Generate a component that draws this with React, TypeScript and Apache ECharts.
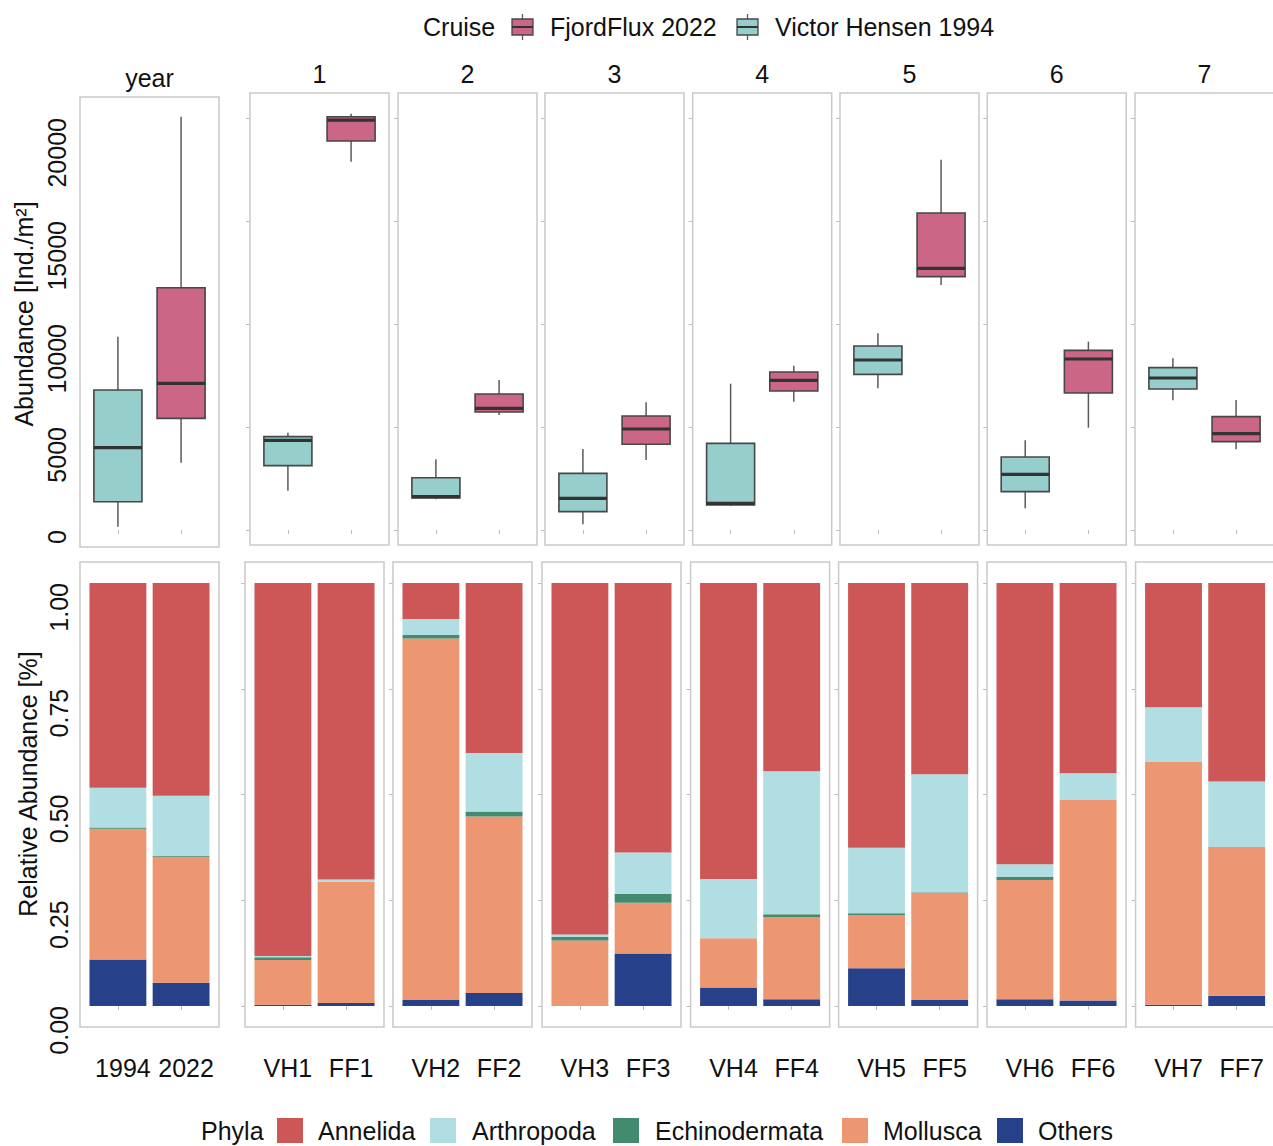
import React, { useEffect, useRef } from 'react';
import * as echarts from 'echarts';

// ---------------- DATA ----------------
const panelTitles = ['year', '1', '2', '3', '4', '5', '6', '7'];
const xCategories = [
  ['1994', '2022'],
  ['VH1', 'FF1'],
  ['VH2', 'FF2'],
  ['VH3', 'FF3'],
  ['VH4', 'FF4'],
  ['VH5', 'FF5'],
  ['VH6', 'FF6'],
  ['VH7', 'FF7'],
];
const cruiseLegend = ['FjordFlux 2022', 'Victor Hensen 1994'];

// box statistics: [lower whisker, Q1, median, Q3, upper whisker]  (Ind./m²)
const vhBox = [
  [162, 1375, 3996, 6796, 9383],
  [1909, 3123, 4353, 4531, 4725],
  [1489, 1553, 1618, 2540, 3430],
  [275, 890, 1537, 2751, 3932],
  [1165, 1214, 1294, 4207, 7103],
  [6877, 7556, 8252, 8932, 9547],
  [1052, 1861, 2702, 3544, 4353],
  [6294, 6845, 7379, 7880, 8333],
];
const ffBox = [
  [3268, 5421, 7120, 11762, 20063],
  [17880, 18882, 19901, 20063, 20208],
  [5582, 5728, 5906, 6602, 7281],
  [3398, 4159, 4903, 5534, 6197],
  [6230, 6748, 7265, 7670, 7977],
  [11893, 12298, 12702, 15388, 17977],
  [4968, 6650, 8301, 8722, 9143],
  [3916, 4288, 4677, 5502, 6311],
];
const abundanceTicks = [0, 5000, 10000, 15000, 20000];
const relativeTicks = [0, 0.25, 0.5, 0.75, 1];

// relative abundance, order: 1994, 2022, VH1, FF1, VH2, FF2, ... VH7, FF7
const phyla = ['Annelida', 'Arthropoda', 'Echinodermata', 'Mollusca', 'Others'];
const others = [0.110, 0.055, 0.003, 0.007, 0.014, 0.031, 0.000, 0.124, 0.044, 0.016, 0.089, 0.014, 0.016, 0.013, 0.003, 0.024];
const mollusca = [0.309, 0.298, 0.106, 0.287, 0.855, 0.417, 0.155, 0.120, 0.116, 0.194, 0.126, 0.254, 0.282, 0.475, 0.575, 0.352];
const echinodermata = [0.003, 0.002, 0.006, 0.000, 0.008, 0.012, 0.008, 0.021, 0.000, 0.007, 0.004, 0.001, 0.007, 0.000, 0.000, 0.000];
const arthropoda = [0.094, 0.142, 0.003, 0.005, 0.038, 0.138, 0.006, 0.098, 0.140, 0.338, 0.155, 0.279, 0.030, 0.062, 0.128, 0.155];
const annelida = [0.484, 0.503, 0.882, 0.701, 0.085, 0.402, 0.831, 0.637, 0.700, 0.445, 0.626, 0.452, 0.665, 0.450, 0.294, 0.469];

// ---------------- STYLE / LAYOUT ----------------
const FONT = 'Liberation Sans, Arial, Helvetica, sans-serif';
const TXT = '#111111';
const VH_COLOR = '#96CECC';
const FF_COLOR = '#CC6686';
const phylaColors: Record<string, string> = {
  Annelida: '#CD5656',
  Arthropoda: '#B0DEE2',
  Echinodermata: '#428B6F',
  Mollusca: '#EC9672',
  Others: '#26408A',
};
const phylaValues: Record<string, number[]> = {
  Annelida: annelida,
  Arthropoda: arthropoda,
  Echinodermata: echinodermata,
  Mollusca: mollusca,
  Others: others,
};
const stackOrder = ['Others', 'Mollusca', 'Echinodermata', 'Arthropoda', 'Annelida'];

const PW = 139; // panel width
const topLeft = [80, 250, 398, 545, 692.7, 840, 987.3, 1135];
const botLeft = [80, 245, 393, 542, 690.6, 838.6, 987, 1135.6];
const topFrame = (i: number) => (i === 0 ? [97, 547] : [93, 545]);
const botFrame = [562, 1027];
const TOP_GRID_TOP = 118;
const TOP_GRID_H = 412;
const BOT_GRID_TOP = 583;
const BOT_GRID_H = 423;
const INSET = (PW * 0.1) / 2.2;
const GRID_W = (PW * 2) / 2.2;

function buildOption() {
  const grids: any[] = [];
  const xAxes: any[] = [];
  const yAxes: any[] = [];
  const series: any[] = [];
  const graphics: any[] = [];

  const tickStyle = { show: true, length: 4, lineStyle: { color: '#bdbdbd', width: 1 } };

  // top row: boxplots
  for (let i = 0; i < 8; i++) {
    const [ft, fb] = topFrame(i);
    grids.push({ left: topLeft[i] + INSET, top: TOP_GRID_TOP, width: GRID_W, height: TOP_GRID_H, containLabel: false });
    xAxes.push({
      gridIndex: i,
      type: 'category',
      data: xCategories[i],
      offset: fb - (TOP_GRID_TOP + TOP_GRID_H),
      axisLine: { show: false },
      axisTick: { ...tickStyle, alignWithLabel: true },
      axisLabel: { show: false },
      splitLine: { show: false },
    });
    yAxes.push({
      gridIndex: i,
      type: 'value',
      min: abundanceTicks[0],
      max: abundanceTicks[abundanceTicks.length - 1],
      interval: abundanceTicks[1] - abundanceTicks[0],
      offset: INSET,
      axisLine: { show: false },
      axisTick: i === 0 ? { show: false } : tickStyle,
      splitLine: { show: false },
      axisLabel:
        i === 0
          ? {
              show: true,
              rotate: 90,
              align: 'right',
              verticalAlign: 'middle',
              margin: 23,
              fontSize: 25,
              color: TXT,
              fontFamily: FONT,
              formatter: (v: number) => String(Math.round(v)),
            }
          : { show: false },
    });
    series.push({
      type: 'custom',
      xAxisIndex: i,
      yAxisIndex: i,
      clip: false,
      encode: { x: 0, y: [1, 2, 3, 4, 5] },
      data: [
        [0, ...vhBox[i]],
        [1, ...ffBox[i]],
      ],
      renderItem: (params: any, api: any) => {
        const xi = api.value(0);
        const lo = api.coord([xi, api.value(1)]);
        const q1 = api.coord([xi, api.value(2)]);
        const md = api.coord([xi, api.value(3)]);
        const q3 = api.coord([xi, api.value(4)]);
        const hi = api.coord([xi, api.value(5)]);
        const band = api.size([1, 0])[0];
        const w = band * 0.76;
        const cx = md[0];
        const fill = xi === 0 ? VH_COLOR : FF_COLOR;
        return {
          type: 'group',
          children: [
            { type: 'line', shape: { x1: cx, y1: hi[1], x2: cx, y2: lo[1] }, style: { stroke: '#5a5a5a', lineWidth: 1.5 } },
            { type: 'rect', shape: { x: cx - w / 2, y: q3[1], width: w, height: q1[1] - q3[1] }, style: { fill, stroke: '#474747', lineWidth: 1.6 } },
            { type: 'line', shape: { x1: cx - w / 2, y1: md[1], x2: cx + w / 2, y2: md[1] }, style: { stroke: '#333333', lineWidth: 3.2 } },
          ],
        };
      },
    });
    graphics.push({
      type: 'rect',
      shape: { x: topLeft[i], y: ft, width: PW, height: fb - ft },
      style: { fill: 'none', stroke: '#c9c9c9', lineWidth: 1.5 },
      z: 1,
    });
    graphics.push({
      type: 'text',
      x: topLeft[i] + PW / 2,
      y: i === 0 ? 78 : 74,
      style: { text: panelTitles[i], fill: TXT, font: `25px ${FONT}`, align: 'center', verticalAlign: 'middle', textAlign: 'center', textVerticalAlign: 'middle' },
    });
  }

  // bottom row: stacked bars
  for (let i = 0; i < 8; i++) {
    const gi = 8 + i;
    grids.push({ left: botLeft[i] + INSET, top: BOT_GRID_TOP, width: GRID_W, height: BOT_GRID_H, containLabel: false });
    xAxes.push({
      gridIndex: gi,
      type: 'category',
      data: xCategories[i],
      offset: botFrame[1] - (BOT_GRID_TOP + BOT_GRID_H),
      axisLine: { show: false },
      axisTick: { ...tickStyle, alignWithLabel: true },
      axisLabel: { show: true, interval: 0, fontSize: 25, color: TXT, fontFamily: FONT, margin: 28, padding: [0, 0, 0, 10] },
      splitLine: { show: false },
    });
    yAxes.push({
      gridIndex: gi,
      type: 'value',
      min: relativeTicks[0],
      max: relativeTicks[relativeTicks.length - 1],
      interval: relativeTicks[1] - relativeTicks[0],
      offset: INSET,
      axisLine: { show: false },
      axisTick: i === 0 ? { show: false } : tickStyle,
      splitLine: { show: false },
      axisLabel:
        i === 0
          ? {
              show: true,
              rotate: 90,
              align: 'right',
              verticalAlign: 'middle',
              margin: 21,
              fontSize: 25,
              color: TXT,
              fontFamily: FONT,
              formatter: (v: number) => v.toFixed(2),
            }
          : { show: false },
    });
    for (const p of stackOrder) {
      series.push({
        type: 'bar',
        name: p,
        xAxisIndex: gi,
        yAxisIndex: gi,
        stack: 'rel' + i,
        barWidth: '90%',
        itemStyle: { color: phylaColors[p] },
        data: [phylaValues[p][2 * i], phylaValues[p][2 * i + 1]],
      });
    }
    graphics.push({
      type: 'rect',
      shape: { x: botLeft[i], y: botFrame[0], width: PW, height: botFrame[1] - botFrame[0] },
      style: { fill: 'none', stroke: '#c9c9c9', lineWidth: 1.5 },
      z: 1,
    });
  }

  // axis titles
  graphics.push({
    type: 'text',
    x: 24,
    y: 314,
    rotation: Math.PI / 2,
    style: { text: 'Abundance [Ind./m²]', fill: TXT, font: `25px ${FONT}`, align: 'center', verticalAlign: 'middle', textAlign: 'center', textVerticalAlign: 'middle' },
  });
  graphics.push({
    type: 'text',
    x: 28,
    y: 784,
    rotation: Math.PI / 2,
    style: { text: 'Relative Abundance [%]', fill: TXT, font: `25px ${FONT}`, align: 'center', verticalAlign: 'middle', textAlign: 'center', textVerticalAlign: 'middle' },
  });

  // top legend (Cruise)
  const leftText = (text: string, x: number, y: number) => ({
    type: 'text',
    x,
    y,
    style: { text, fill: TXT, font: `25px ${FONT}`, align: 'left', verticalAlign: 'middle', textAlign: 'left', textVerticalAlign: 'middle' },
  });
  graphics.push(leftText('Cruise', 423, 27));
  const boxKey = (x: number, fill: string) => [
    { type: 'line', shape: { x1: x + 10.5, y1: 14, x2: x + 10.5, y2: 40 }, style: { stroke: '#5a5a5a', lineWidth: 1.3 } },
    { type: 'rect', shape: { x, y: 19, width: 21, height: 16 }, style: { fill, stroke: '#474747', lineWidth: 1.3 } },
    { type: 'line', shape: { x1: x, y1: 27, x2: x + 21, y2: 27 }, style: { stroke: '#333', lineWidth: 2 } },
  ];
  graphics.push(...boxKey(512, FF_COLOR));
  graphics.push(leftText(cruiseLegend[0], 550, 27));
  graphics.push(...boxKey(737, VH_COLOR));
  graphics.push(leftText(cruiseLegend[1], 775, 27));

  // bottom legend (Phyla)
  graphics.push(leftText('Phyla', 201, 1131));
  const sqX = [277, 430, 613, 842, 997];
  const txX = [318, 472, 655, 883, 1038];
  phyla.forEach((p, k) => {
    graphics.push({ type: 'rect', shape: { x: sqX[k], y: 1118, width: 26, height: 25 }, style: { fill: phylaColors[p] } });
    graphics.push(leftText(p, txX[k], 1131));
  });

  return {
    animation: false,
    backgroundColor: '#ffffff',
    textStyle: { fontFamily: FONT },
    grid: grids,
    xAxis: xAxes,
    yAxis: yAxes,
    series,
    graphic: { elements: graphics },
  };
}

export default function App() {
  const ref = useRef<HTMLDivElement>(null);
  useEffect(() => {
    if (!ref.current) return;
    const chart = echarts.init(ref.current, undefined, { renderer: 'svg' });
    chart.setOption(buildOption() as any);
    return () => chart.dispose();
  }, []);
  return (
    <div
      ref={ref}
      style={{ position: 'absolute', left: 0, top: 0, width: 1273, height: 1146, background: '#fff' }}
    />
  );
}
